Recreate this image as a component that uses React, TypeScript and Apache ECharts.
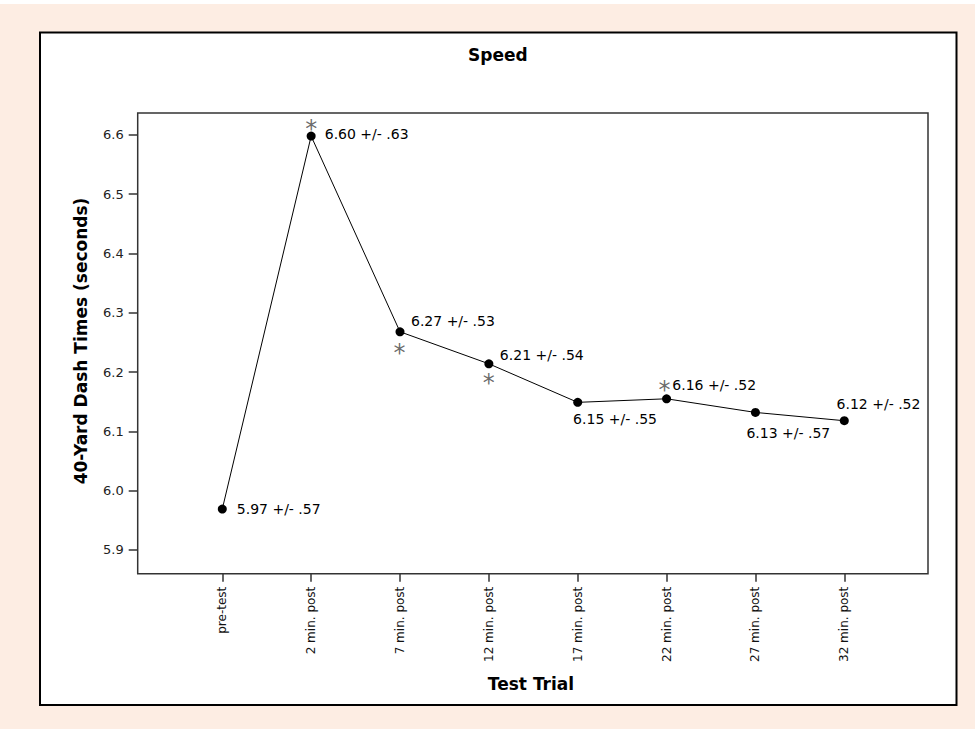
import React, { useEffect, useRef } from "react";
import * as echarts from "echarts";

const categories = [
  "pre-test",
  "2 min. post",
  "7 min. post",
  "12 min. post",
  "17 min. post",
  "22 min. post",
  "27 min. post",
  "32 min. post",
];
const meanTimes = [5.969, 6.598, 6.268, 6.214, 6.149, 6.155, 6.132, 6.118];
const meanSdLabels = [
  "5.97 +/- .57",
  "6.60 +/- .63",
  "6.27 +/- .53",
  "6.21 +/- .54",
  "6.15 +/- .55",
  "6.16 +/- .52",
  "6.13 +/- .57",
  "6.12 +/- .52",
];
const significant = [false, true, true, true, false, true, false, false];
const yTicks = [5.9, 6.0, 6.1, 6.2, 6.3, 6.4, 6.5, 6.6];
const titleText = "Speed";
const yAxisTitle = "40-Yard Dash Times (seconds)";
const xAxisTitle = "Test Trial";

export default function App() {
  const ref = useRef<HTMLDivElement>(null);

  useEffect(() => {
    if (!ref.current) return;
    const chart = echarts.init(ref.current, null, { renderer: "svg" });

    const labelOffsets = [
      [14.5, 0],
      [13.6, -1.7],
      [11, -11],
      [11, -9],
      [-4.6, 17],
      [5.7, -13.3],
      [-9, 21],
      [-7.7, -16.7],
    ];
    const starOffsets: (number[] | null)[] = [
      null,
      [0, -7],
      [-0.5, 21],
      [0, 18.8],
      null,
      [-2, -9.2],
      null,
      null,
    ];
    // category positions on the value-type x axis (1-based so the y axis sits at the left edge)
    const xPos = categories.map((_, i) => i + 1);
    const axisColor = "#333";
    const textFont = "DejaVu Sans";

    const option: any = {
      animation: false,
      backgroundColor: "#ffffff",
      title: {
        text: titleText,
        left: 463,
        top: 41,
        textStyle: {
          fontFamily: textFont,
          fontWeight: "bold",
          fontSize: 17,
          color: "#000",
        },
      },
      graphic: [
        {
          type: "rect",
          z: -20,
          silent: true,
          shape: { x: 0, y: 4, width: 975, height: 725 },
          style: { fill: "#FDEDE3" },
        },
        {
          type: "rect",
          z: -19,
          silent: true,
          shape: { x: 40, y: 32.5, width: 916.5, height: 672.5 },
          style: { fill: "#ffffff", stroke: "#000", lineWidth: 2 },
        },
        {
          type: "text",
          x: 81,
          y: 341,
          rotation: Math.PI / 2,
          style: {
            text: yAxisTitle,
            fontFamily: textFont,
            fontWeight: "bold",
            fontSize: 17,
            fill: "#000",
            align: "center",
            verticalAlign: "middle",
          },
        },
        {
          type: "text",
          x: 531,
          y: 684,
          style: {
            text: xAxisTitle,
            fontFamily: textFont,
            fontWeight: "bold",
            fontSize: 17,
            fill: "#000",
            align: "center",
            verticalAlign: "middle",
          },
        },
      ],
      grid: {
        left: 137.7,
        top: 113,
        right: 47,
        bottom: 155.3,
        show: true,
        backgroundColor: "transparent",
        borderColor: axisColor,
        borderWidth: 1.5,
        containLabel: false,
      },
      xAxis: {
        type: "value",
        min: 0.048,
        max: 8.942,
        axisLine: { show: false },
        splitLine: { show: false },
        axisTick: {
          show: true,
          length: 8,
          customValues: xPos,
          lineStyle: { color: axisColor, width: 1.5 },
        },
        axisLabel: {
          customValues: xPos,
          rotate: 90,
          margin: 13,
          fontFamily: textFont,
          fontSize: 12,
          color: "#111",
          formatter: (v: number) => categories[Math.round(v) - 1] ?? "",
        },
      },
      yAxis: {
        type: "value",
        min: 5.86,
        max: 6.637,
        axisLine: { show: false },
        splitLine: { show: false },
        axisTick: {
          show: true,
          length: 9,
          customValues: yTicks,
          lineStyle: { color: axisColor, width: 1.5 },
        },
        axisLabel: {
          customValues: yTicks,
          margin: 14,
          fontFamily: textFont,
          fontSize: 13,
          color: "#222",
          formatter: (v: number) => v.toFixed(1),
        },
      },
      series: [
        {
          type: "line",
          silent: true,
          symbol: "circle",
          symbolSize: 9,
          showSymbol: true,
          lineStyle: { color: "#000", width: 1 },
          itemStyle: { color: "#000" },
          label: {
            show: true,
            position: "inside",
            align: "left",
            verticalAlign: "middle",
            fontFamily: textFont,
            fontSize: 14,
            color: "#000",
            formatter: (p: any) => meanSdLabels[p.dataIndex],
          },
          emphasis: { disabled: true },
          data: meanTimes.map((v, i) => ({
            value: [xPos[i], v],
            label: { offset: labelOffsets[i] },
          })),
          z: 3,
        },
        {
          type: "scatter",
          silent: true,
          symbol: "circle",
          symbolSize: 1,
          itemStyle: { color: "rgba(0,0,0,0)" },
          label: {
            show: true,
            position: "inside",
            align: "center",
            verticalAlign: "middle",
            fontFamily: textFont,
            fontSize: 24,
            color: "#444",
            formatter: "*",
          },
          emphasis: { disabled: true },
          data: meanTimes
            .map((v, i) => ({ v, i }))
            .filter((d) => significant[d.i])
            .map((d) => ({
              value: [xPos[d.i], d.v],
              label: { offset: starOffsets[d.i] || [0, 0] },
            })),
          z: 4,
        },
      ],
    };

    chart.setOption(option);
    return () => chart.dispose();
  }, []);

  return (
    <div
      ref={ref}
      style={{ position: "fixed", left: 0, top: 0, width: 975, height: 729 }}
    />
  );
}
